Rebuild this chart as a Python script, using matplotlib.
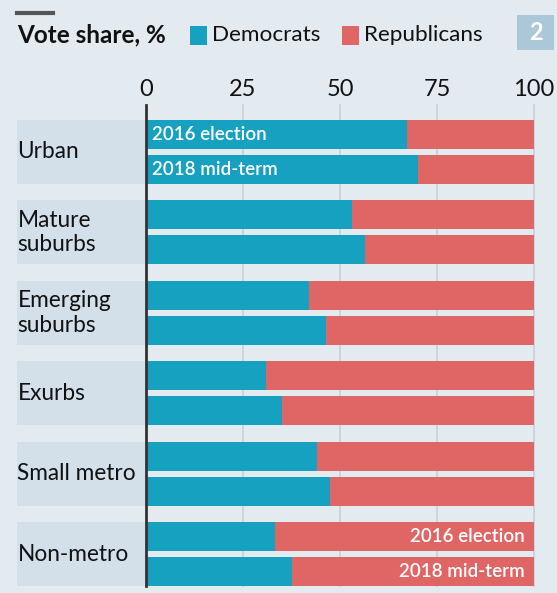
import numpy as np
import matplotlib.pyplot as plt
from matplotlib.lines import Line2D
from matplotlib.patches import Rectangle
import matplotlib.transforms as mtransforms

plt.rcParams['font.family'] = ['Lato', 'DejaVu Sans']

# data
areas = ['Urban', 'Mature\nsuburbs', 'Emerging\nsuburbs', 'Exurbs', 'Small metro', 'Non-metro']
dem_2016 = [67.3, 53.0, 42.0, 31.0, 44.0, 33.3]
dem_2018 = [70.0, 56.5, 46.3, 35.0, 47.5, 37.5]
ticks = [0, 25, 50, 75, 100]

W, H = 557, 593
BG = '#e3ebf1'
BAND = '#d3e0ea'
BLUE = '#17a1c1'
RED = '#e06666'

fig = plt.figure(figsize=(W / 100, H / 100), dpi=100, facecolor=BG)

# axes placed in pixel terms: x 146..534, y 120..586
ax = fig.add_axes([146 / W, 1 - 586 / H, 388 / W, 466 / H])
ax.set_facecolor('none')

grp_h = 0.796
bar_h = 0.36
off = 0.2175
n = len(areas)
centers = np.arange(n) + grp_h / 2

d16 = np.array(dem_2016)
d18 = np.array(dem_2018)

ax.barh(centers - off, d16, height=bar_h, color=BLUE, zorder=3)
ax.barh(centers - off, 100 - d16, left=d16, height=bar_h, color=RED, zorder=3)
ax.barh(centers + off, d18, height=bar_h, color=BLUE, zorder=3)
ax.barh(centers + off, 100 - d18, left=d18, height=bar_h, color=RED, zorder=3)

ax.set_xlim(0, 100)
ax.set_ylim(n - 1 + grp_h, 0)
for s in ax.spines.values():
    s.set_visible(False)
ax.set_xticks([])
ax.set_yticks([])

# label bands on the left
band_left = (17 - 146) / 388
ytrans = mtransforms.blended_transform_factory(ax.transAxes, ax.transData)
for c, name in zip(centers, areas):
    r = Rectangle((band_left, c - grp_h / 2), -band_left, grp_h, transform=ytrans,
                  facecolor=BAND, edgecolor='none', clip_on=False, zorder=0)
    ax.add_patch(r)
    ax.text(band_left + 0.001, c, name, transform=ytrans,
            ha='left', va='center', fontsize=16.3, color='#111111', linespacing=1.22, zorder=4)

# grid lines and tick labels
top_ext = 1 + 15 / 466
for t in ticks[1:]:
    ax.axvline(t, ymin=0, ymax=top_ext, color='#c8d4dd', lw=1.3, zorder=1, clip_on=False)
ax.axvline(0, ymin=0, ymax=top_ext, color='#333333', lw=2, zorder=5, clip_on=False)
xtrans = mtransforms.blended_transform_factory(ax.transData, ax.transAxes)
for t in ticks:
    ax.text(t, 1 + 31 / 466, str(t), transform=xtrans,
            ha='center', va='center', fontsize=17, color='#111111')

# labels inside bars
ax.text(1.5, centers[0] - off, '2016 election', ha='left', va='center', color='white',
        fontsize=13.5, fontweight='semibold', zorder=6)
ax.text(1.5, centers[0] + off, '2018 mid-term', ha='left', va='center', color='white',
        fontsize=13.5, fontweight='semibold', zorder=6)
ax.text(97.5, centers[-1] - off, '2016 election', ha='right', va='center', color='white',
        fontsize=13.5, fontweight='semibold', zorder=6)
ax.text(97.5, centers[-1] + off, '2018 mid-term', ha='right', va='center', color='white',
        fontsize=13.5, fontweight='semibold', zorder=6)

# header
fig.add_artist(Line2D([17 / W, 53 / W], [1 - 13 / H, 1 - 13 / H], color='#555555', lw=3))
fig.text(17 / W, 1 - 35 / H, 'Vote share, %', ha='left', va='center', fontsize=17.5,
         fontweight='bold', color='#111111')
fig.add_artist(Rectangle((190 / W, 1 - 45 / H), 17 / W, 19 / H, transform=fig.transFigure,
                         facecolor=BLUE, edgecolor='none'))
fig.text(212 / W, 1 - 35 / H, 'Democrats', ha='left', va='center', fontsize=16.2, color='#111111')
fig.add_artist(Rectangle((342 / W, 1 - 45 / H), 17 / W, 19 / H, transform=fig.transFigure,
                         facecolor=RED, edgecolor='none'))
fig.text(364 / W, 1 - 35 / H, 'Republicans', ha='left', va='center', fontsize=16.2, color='#111111')
fig.add_artist(Rectangle((517 / W, 1 - 50 / H), 37 / W, 35 / H, transform=fig.transFigure,
                         facecolor='#aac8d8', edgecolor='none'))
fig.text(535.5 / W, 1 - 33 / H, '2', ha='center', va='center', fontsize=17,
         fontweight='bold', color='white')

fig.savefig('out.png', dpi=100, facecolor=BG)
